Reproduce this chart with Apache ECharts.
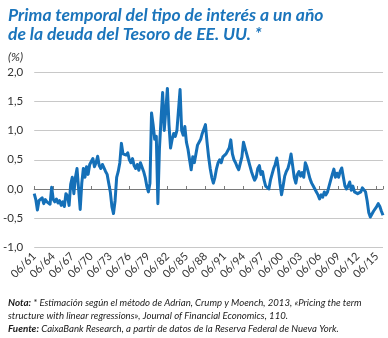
<!DOCTYPE html>
<html>
<head>
<meta charset="utf-8">
<script src="https://cdn.jsdelivr.net/npm/echarts@6/dist/echarts.min.js"></script>
<style>
html,body{margin:0;padding:0;background:#fff;}
#chart{width:388px;height:338px;}
</style>
</head>
<body>
<div id="chart"></div>
<script>
// Quarterly samples starting June 1961 (months since 06/1961 = index*3)
const startYear = 1961;
const stepMonths = 3;
const termPremium = [
  -0.08, -0.18, -0.36, -0.2,   // 1961
  -0.22, -0.15, -0.25, -0.18,  // 1962
  -0.22, -0.2, -0.26, 0.03,    // 1963
  -0.18, -0.22, -0.17, -0.24,  // 1964
  -0.2, -0.28, -0.22, -0.3,    // 1965
  -0.08, -0.12, -0.28, 0.08,   // 1966
  0.2, -0.08, 0.2, 0.35,       // 1967
  0.0, -0.35, 0.1, 0.35,       // 1968
  0.2, 0.38, 0.25, 0.42,       // 1969
  0.4, 0.52, 0.38, 0.45,       // 1970
  0.56, 0.4, 0.35, 0.42,       // 1971
  0.45, 0.3, 0.25, 0.1,        // 1972
  -0.05, -0.3, -0.42, -0.2,    // 1973
  0.2, 0.3, 0.45, 0.78,        // 1974
  0.6, 0.62, 0.58, 0.62,       // 1975
  0.5, 0.45, 0.52, 0.4,        // 1976
  0.35, 0.42, 0.32, 0.45,      // 1977
  0.47, 0.3, 0.2, 0.05,        // 1978
  -0.05, 0.1, 1.3, 1.1,        // 1979
  0.85, 0.9, -0.25, 0.7,       // 1980
  1.2, 1.65, 1.0, 1.35,        // 1981
  1.72, 1.1, 0.7, 0.85,        // 1982
  0.95, 0.9, 1.0, 1.0,         // 1983
  1.7, 1.0, 0.92, 1.07,        // 1984
  0.8, 0.68, 0.5, 0.33,        // 1985
  0.55, 0.45, 0.6, 0.75,       // 1986
  0.8, 0.85, 0.95, 0.92,       // 1987
  1.1, 0.8, 0.55, 0.35,        // 1988
  0.2, 0.1, 0.2, 0.35,         // 1989
  0.45, 0.5, 0.45, 0.55,       // 1990
  0.55, 0.6, 0.62, 0.7,        // 1991
  0.84, 0.6, 0.5, 0.45,        // 1992
  0.38, 0.33, 0.35, 0.55,      // 1993
  0.8, 0.7, 0.6, 0.5,          // 1994
  0.4, 0.3, 0.22, 0.15,        // 1995
  0.2, 0.35, 0.4, 0.25,        // 1996
  0.3, 0.15, 0.05, 0.08,       // 1997
  0.0, 0.15, 0.25, 0.35,       // 1998
  0.42, 0.53, 0.35, 0.1,       // 1999
  -0.1, 0.05, 0.22, 0.3,       // 2000
  0.35, 0.45, 0.6, 0.4,        // 2001
  0.2, 0.1, 0.25, 0.3,         // 2002
  0.22, 0.28, 0.2, 0.45,       // 2003
  0.38, 0.35, 0.17, 0.1,       // 2004
  0.05, 0.02, -0.05, -0.1,     // 2005
  -0.17, -0.1, -0.14, -0.05,   // 2006
  -0.1, -0.05, -0.08, 0.15,    // 2007
  0.25, 0.34, 0.2, 0.27,       // 2008
  0.2, 0.3, 0.36, 0.2,         // 2009
  0.05, 0.0, 0.05, 0.12,       // 2010
  -0.02, 0.05, -0.05, -0.02,   // 2011
  -0.08, -0.1, -0.05, 0.02,    // 2012
  0.05, -0.05, -0.2, -0.4,     // 2013
  -0.48, -0.45, -0.38, -0.35,  // 2014
  -0.3, -0.25, -0.3, -0.38,    // 2015
  -0.45                        // 2016
];
const tickLabels = ['06/61','06/64','06/67','06/70','06/73','06/76','06/79','06/82','06/85','06/88','06/91','06/94','06/97','06/00','06/03','06/06','06/09','06/12','06/15'];
const yTicks = [-1, -0.5, 0, 0.5, 1, 1.5, 2];

const titleText = 'Prima temporal del tipo de interés a un año\nde la deuda del Tesoro de EE. UU. *';
const unitText = '(%)';
const noteLines = [
  '{b|Nota:} {i|* Estimación según el método de Adrian, Crump y Moench, 2013, «Pricing the term}',
  '{i|structure with linear regressions», Journal of Financial Economics, 110.}',
  '{b|Fuente:} {i|CaixaBank Research, a partir de datos de la Reserva Federal de Nueva York.}'
];

const seriesData = termPremium.map((v, i) => [i * stepMonths, v]);
const xMax = (termPremium.length - 1) * stepMonths;

const chart = echarts.init(document.getElementById('chart'), null, {renderer: 'canvas'});
const FONT = 'Lato, "Open Sans", sans-serif';
chart.setOption({
  animation: false,
  backgroundColor: '#ffffff',
  title: [
    {
      text: titleText, left: 3, top: 1,
      textStyle: {color: '#1b75bc', fontSize: 17.5, fontWeight: 'bold', fontStyle: 'italic', fontFamily: FONT, lineHeight: 19}
    },
    {
      text: unitText, left: 3, top: 46,
      textStyle: {color: '#333', fontSize: 12, fontWeight: 'normal', fontStyle: 'italic', fontFamily: FONT}
    },
    {
      text: noteLines.join('\n'), left: 3, top: 291,
      textStyle: {
        fontSize: 9.5, lineHeight: 13, fontFamily: FONT, color: '#1a1a1a',
        rich: {
          b: {fontWeight: 'bold', fontStyle: 'italic', fontSize: 9.8, fontFamily: FONT, color: '#1a1a1a', lineHeight: 13},
          i: {fontWeight: 'normal', fontStyle: 'italic', fontSize: 9.6, fontFamily: FONT, color: '#1a1a1a', lineHeight: 13}
        }
      }
    }
  ],
  grid: {left: 27, right: 5, top: 72, bottom: 90.5, containLabel: false},
  xAxis: [
    {
      type: 'value', min: 0, max: xMax, interval: 36, position: 'bottom',
      axisLine: {show: false, onZero: false},
      axisTick: {show: false},
      splitLine: {show: false},
      axisLabel: {
        rotate: 45, margin: 7, fontSize: 11, color: '#333', fontFamily: FONT,
        showMaxLabel: false,
        formatter: v => (v % 36 === 0 && tickLabels[v / 36]) ? tickLabels[v / 36] : ''
      }
    },
    {
      type: 'value', min: 0, max: xMax, interval: 36, position: 'bottom',
      axisLine: {show: true, onZero: true, lineStyle: {color: '#7a7a7a', width: 1}},
      axisTick: {show: true, inside: true, length: 3, lineStyle: {color: '#7a7a7a'}},
      axisLabel: {show: false},
      splitLine: {show: false}
    }
  ],
  yAxis: {
    type: 'value', min: yTicks[0], max: yTicks[yTicks.length - 1], interval: 0.5,
    axisLine: {show: false}, axisTick: {show: false},
    splitLine: {lineStyle: {color: '#c8c8c8', width: 1}},
    axisLabel: {
      margin: 11, fontSize: 11.5, color: '#333', fontFamily: FONT,
      formatter: v => v.toFixed(1).replace('.', ',')
    }
  },
  series: [{
    type: 'line', xAxisIndex: 0, data: seriesData, showSymbol: false,
    lineStyle: {color: '#1570b8', width: 3, join: 'round'},
    itemStyle: {color: '#1570b8'}, z: 5
  }]
});
</script>
</body>
</html>
